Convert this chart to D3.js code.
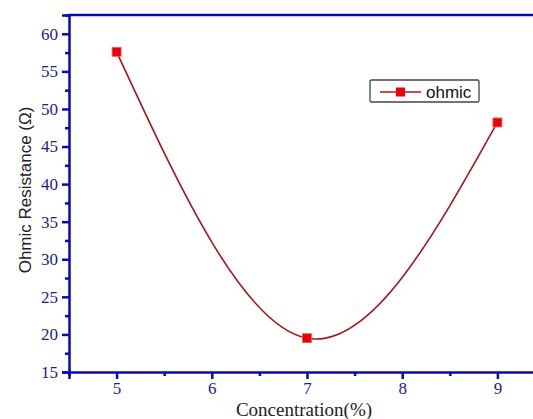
<!DOCTYPE html>
<html>
<head>
<meta charset="utf-8">
<script src="https://cdn.jsdelivr.net/npm/d3@7"></script>
<style>
  body { margin: 0; background: #fff; }
</style>
</head>
<body>
<svg></svg>
<script>
// data
var concentration = [5, 7, 9];
var resistance = [57.6, 19.5, 48.2];
var seriesName = "ohmic";
var yTicks = [15, 20, 25, 30, 35, 40, 45, 50, 55, 60];
var xTicks = [5, 6, 7, 8, 9];

var width = 533, height = 419;
var margin = {top: 15, right: -12, bottom: 47, left: 69};

var svg = d3.select("svg")
    .attr("width", width)
    .attr("height", height);

var x = d3.scaleLinear()
  .domain([4.5, 9.5])
  .range([margin.left, width - margin.right]);

var y = d3.scaleLinear()
  .domain([15, 62.5])
  .range([height - margin.bottom, margin.top]);

var axisColor = "#0a0ab4";
var labelColor = "#1c1c8c";

// minor ticks
svg.append("g")
  .attr("transform", "translate(0," + y(15) + ")")
  .call(d3.axisBottom(x).tickValues([4.5, 5.5, 6.5, 7.5, 8.5, 9.5]).tickSize(4).tickFormat(""))
  .call(function(g) { g.select(".domain").remove(); })
  .selectAll("line").attr("stroke", axisColor).attr("stroke-width", 2.5);

svg.append("g")
  .attr("transform", "translate(" + x(4.5) + ",0)")
  .call(d3.axisLeft(y).tickValues([17.5, 22.5, 27.5, 32.5, 37.5, 42.5, 47.5, 52.5, 57.5, 62.5]).tickSize(4).tickFormat(""))
  .call(function(g) { g.select(".domain").remove(); })
  .selectAll("line").attr("stroke", axisColor).attr("stroke-width", 2.5);

// major axes
var xAxis = svg.append("g")
  .attr("transform", "translate(0," + y(15) + ")")
  .call(d3.axisBottom(x).tickValues(xTicks).tickSize(7).tickPadding(3).tickFormat(d3.format("d")));

var yAxis = svg.append("g")
  .attr("transform", "translate(" + x(4.5) + ",0)")
  .call(d3.axisLeft(y).tickValues(yTicks).tickSize(7).tickPadding(4).tickFormat(d3.format("d")));

[xAxis, yAxis].forEach(function(g) {
  g.select(".domain").attr("stroke", axisColor).attr("stroke-width", 2.5);
  g.selectAll(".tick line").attr("stroke", axisColor).attr("stroke-width", 2.5);
  g.selectAll(".tick text")
    .attr("fill", labelColor)
    .style("font-family", "'Liberation Serif', 'Times New Roman', serif")
    .style("font-size", "17px");
});

// top frame line
svg.append("line")
  .attr("x1", x(4.5)).attr("x2", width)
  .attr("y1", y(62.5)).attr("y2", y(62.5))
  .attr("stroke", axisColor)
  .attr("stroke-width", 2.5);

// curve
var pts = concentration.map(function(c, i) { return [c, resistance[i]]; });
var line = d3.line()
  .x(function(d) { return x(d[0]); })
  .y(function(d) { return y(d[1]); })
  .curve(d3.curveNatural);

svg.append("path")
  .datum(pts)
  .attr("d", line)
  .attr("fill", "none")
  .attr("stroke", "#a8141c")
  .attr("stroke-width", 1.6);

// markers
svg.append("g")
  .selectAll("rect")
  .data(pts)
  .enter()
  .append("rect")
  .attr("x", function(d) { return x(d[0]) - 4.5; })
  .attr("y", function(d) { return y(d[1]) - 4.5; })
  .attr("width", 9)
  .attr("height", 9)
  .attr("fill", "#e8000a")
  .attr("stroke", "#f06060")
  .attr("stroke-width", 0.8);

// legend
var lg = svg.append("g").attr("transform", "translate(370,80)");
lg.append("rect")
  .attr("width", 109).attr("height", 22)
  .attr("fill", "#fff")
  .attr("stroke", "#444")
  .attr("stroke-width", 1.3)
  .attr("rx", 1.5);
lg.append("line")
  .attr("x1", 10).attr("x2", 51).attr("y1", 12).attr("y2", 12)
  .attr("stroke", "#c0101a").attr("stroke-width", 1.6);
lg.append("rect")
  .attr("x", 26).attr("y", 7.5).attr("width", 9).attr("height", 9)
  .attr("fill", "#e8000a");
lg.append("text")
  .attr("x", 56).attr("y", 17.5)
  .attr("fill", "#111")
  .style("font-family", "'Liberation Sans', Arial, sans-serif")
  .style("font-size", "17px")
  .text(seriesName);

// axis titles
svg.append("text")
  .attr("x", 304)
  .attr("y", 416)
  .attr("text-anchor", "middle")
  .attr("fill", "#222")
  .style("font-family", "'Liberation Serif', 'Times New Roman', serif")
  .style("font-size", "19px")
  .text("Concentration(%)");

svg.append("text")
  .attr("transform", "translate(31," + 190 + ") rotate(-90)")
  .attr("text-anchor", "middle")
  .attr("fill", "#222")
  .style("font-family", "'Liberation Sans', Arial, sans-serif")
  .style("font-size", "17px")
  .text("Ohmic Resistance (\u03A9)");
</script>
</body>
</html>
